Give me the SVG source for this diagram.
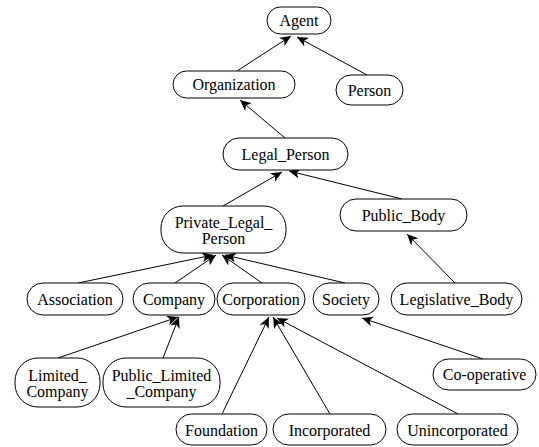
<svg xmlns="http://www.w3.org/2000/svg" width="539" height="447" viewBox="0 0 539 447">
<defs>
<marker id="ah" markerWidth="12" markerHeight="10" refX="11" refY="5" orient="auto" markerUnits="userSpaceOnUse">
<path d="M0,0 L11,5 L0,10 L3,5 z" fill="#000"/>
</marker>
<style>
.n rect{fill:#fff;stroke:#000;stroke-width:1}
.n text{font-family:'Liberation Serif','Times New Roman',serif;font-size:16px;fill:#000;text-anchor:middle}
.e line{stroke:#000;stroke-width:1;marker-end:url(#ah)}
</style>
</defs>
<rect width="539" height="447" fill="#fff"/>
<g id="edges" class="e">
<line x1="237" y1="71" x2="291" y2="36"/>
<line x1="367" y1="75" x2="297" y2="37"/>
<line x1="285" y1="138" x2="240" y2="100"/>
<line x1="223" y1="206" x2="282" y2="172"/>
<line x1="402" y1="199" x2="289" y2="171"/>
<line x1="455" y1="283" x2="407" y2="234"/>
<line x1="78" y1="283" x2="213" y2="255"/>
<line x1="175" y1="283" x2="216" y2="255"/>
<line x1="262" y1="283" x2="222" y2="255"/>
<line x1="345" y1="283" x2="225" y2="255"/>
<line x1="58" y1="358" x2="178" y2="317"/>
<line x1="163" y1="358" x2="179" y2="317"/>
<line x1="222" y1="414" x2="269" y2="317"/>
<line x1="330" y1="414" x2="273" y2="317"/>
<line x1="458" y1="414" x2="277" y2="318"/>
<line x1="483" y1="359" x2="362" y2="318"/>
</g>
<g id="Agent" class="n"><rect x="267" y="7" width="64" height="27" rx="13.5"/><text x="299" y="26">Agent</text></g>
<g id="Organization" class="n"><rect x="173" y="71" width="122" height="27" rx="13.5"/><text x="234" y="90">Organization</text></g>
<g id="Person" class="n"><rect x="336" y="75" width="67" height="30" rx="15"/><text x="369.5" y="96">Person</text></g>
<g id="Legal_Person" class="n"><rect x="223" y="138" width="125" height="32" rx="16"/><text x="285.5" y="160">Legal_Person</text></g>
<g id="Private_Legal_Person" class="n"><rect x="161" y="206" width="125" height="47" rx="22"/><text x="223.5" y="228">Private_Legal_</text><text x="223.5" y="244">Person</text></g>
<g id="Public_Body" class="n"><rect x="340" y="199" width="127" height="32" rx="16"/><text x="403.5" y="221">Public_Body</text></g>
<g id="Association" class="n"><rect x="27" y="283" width="96" height="32" rx="16"/><text x="75" y="305">Association</text></g>
<g id="Company" class="n"><rect x="133" y="283" width="82" height="32" rx="16"/><text x="174" y="305">Company</text></g>
<g id="Corporation" class="n"><rect x="217" y="283" width="88" height="32" rx="16"/><text x="261" y="305">Corporation</text></g>
<g id="Society" class="n"><rect x="313" y="283" width="66" height="32" rx="16"/><text x="346" y="305">Society</text></g>
<g id="Legislative_Body" class="n"><rect x="391" y="283" width="131" height="32" rx="16"/><text x="456.5" y="305">Legislative_Body</text></g>
<g id="Limited_Company" class="n"><rect x="15" y="358" width="85" height="49" rx="23"/><text x="57.5" y="381">Limited_</text><text x="57.5" y="397">Company</text></g>
<g id="Public_Limited_Company" class="n"><rect x="103" y="358" width="117" height="49" rx="23"/><text x="161.5" y="381">Public_Limited</text><text x="161.5" y="397">_Company</text></g>
<g id="Co-operative" class="n"><rect x="433" y="359" width="103" height="31" rx="15.5"/><text x="484.5" y="380">Co-operative</text></g>
<g id="Foundation" class="n"><rect x="176" y="414" width="91" height="31" rx="15.5"/><text x="221.5" y="436">Foundation</text></g>
<g id="Incorporated" class="n"><rect x="273" y="414" width="113" height="31" rx="15.5"/><text x="329.5" y="436">Incorporated</text></g>
<g id="Unincorporated" class="n"><rect x="397" y="414" width="121" height="31" rx="15.5"/><text x="457.5" y="436">Unincorporated</text></g>
</svg>
